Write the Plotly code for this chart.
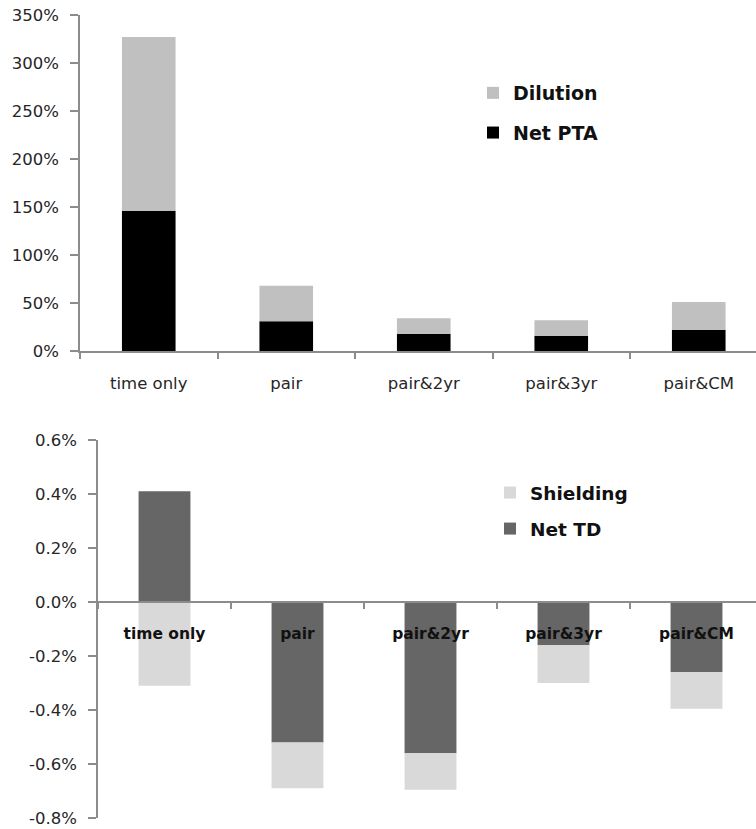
import plotly.graph_objects as go

categories = ["time only", "pair", "pair&2yr", "pair&3yr", "pair&CM"]

# Top chart (percent units)
net_pta = [146, 31, 18, 16, 22]
dilution = [181, 37, 16, 16, 29]
top_ticks = [0, 50, 100, 150, 200, 250, 300, 350]
top_labels = [f"{v}%" for v in top_ticks]

# Bottom chart (percent units)
net_td = [0.41, -0.52, -0.56, -0.16, -0.26]
shielding = [-0.31, -0.17, -0.135, -0.14, -0.135]
bot_ticks = [-0.8, -0.6, -0.4, -0.2, 0.0, 0.2, 0.4, 0.6]
bot_labels = [f"{v:.1f}%" for v in bot_ticks]

W, H = 756, 829
FONT = "DejaVu Sans"
TXT = "#262626"
AX = "#8c8c8c"
BW = 0.39

top_ydom = [(H - 351) / H, (H - 15) / H]
bot_ydom = [(H - 818) / H, (H - 440) / H]
bot_yrange = [-0.8, 0.6]
zero_pos = bot_ydom[0] + (0 - bot_yrange[0]) / (bot_yrange[1] - bot_yrange[0]) * (bot_ydom[1] - bot_ydom[0])

fig = go.Figure()
fig.add_trace(go.Bar(x=categories, y=net_pta, name="Net PTA", marker_color="#000000",
                     width=BW, xaxis="x", yaxis="y", legend="legend", legendgroup="a", legendrank=2))
fig.add_trace(go.Bar(x=categories, y=dilution, name="Dilution", marker_color="#c0c0c0",
                     width=BW, xaxis="x", yaxis="y", legend="legend", legendgroup="b", legendrank=1))
fig.add_trace(go.Bar(x=categories, y=net_td, name="Net TD", marker_color="#666666",
                     width=BW, xaxis="x2", yaxis="y2", legend="legend2", legendgroup="c", legendrank=2))
fig.add_trace(go.Bar(x=categories, y=shielding, name="Shielding", marker_color="#d9d9d9",
                     width=BW, xaxis="x2", yaxis="y2", legend="legend2", legendgroup="d", legendrank=1))

for t in fig.data:
    t.marker.line.width = 0

fig.update_layout(
    width=W, height=H,
    margin=dict(l=0, r=0, t=0, b=0, autoexpand=False),
    paper_bgcolor="white", plot_bgcolor="white",
    barmode="relative",
    font=dict(family=FONT, color=TXT),
    xaxis=dict(domain=[80 / W, 1], anchor="y", range=[-0.5, (W - 80) / 137.5 - 0.5],
               automargin=False,
               showline=True, linecolor=AX, linewidth=1.5, ticks="outside", tickson="boundaries",
               ticklen=6, tickcolor=AX, tickwidth=1.5, showgrid=False, zeroline=False,
               tickfont=dict(size=16.5, color=TXT), ticklabelstandoff=16),
    yaxis=dict(domain=top_ydom, anchor="x", range=[0, 350], tickmode="array",
               tickvals=top_ticks, ticktext=top_labels, automargin=False,
               showline=True, linecolor=AX, linewidth=1.5, ticks="outside", ticklen=8,
               tickcolor=AX, tickwidth=1.5, showgrid=False, zeroline=False,
               tickfont=dict(size=16.5, color=TXT), ticklabelstandoff=8),
    xaxis2=dict(domain=[98 / W, 1], anchor="free", position=zero_pos,
                range=[-0.5, (W - 98) / 133.0 - 0.5], automargin=False,
                showline=True, linecolor=AX, linewidth=1.5, ticks="outside", tickson="boundaries",
                ticklen=6, tickcolor=AX, tickwidth=1.5, showgrid=False, zeroline=False,
                tickfont=dict(size=15.5, color="#111111", weight="bold"), ticklabelstandoff=18),
    yaxis2=dict(domain=bot_ydom, anchor="x2", range=bot_yrange, tickmode="array",
                tickvals=bot_ticks, ticktext=bot_labels, automargin=False,
                showline=True, linecolor=AX, linewidth=1.5, ticks="outside", ticklen=8,
                tickcolor=AX, tickwidth=1.5, showgrid=False, zeroline=False,
                tickfont=dict(size=16.5, color=TXT), ticklabelstandoff=8),
    legend=dict(x=473 / W, y=(H - 74) / H, xanchor="left", yanchor="top",
                traceorder="grouped", tracegroupgap=12, bgcolor="rgba(0,0,0,0)",
                font=dict(size=19, color="#111111", weight="bold")),
    legend2=dict(x=490 / W, y=(H - 474) / H, xanchor="left", yanchor="top",
                 traceorder="grouped", tracegroupgap=9, bgcolor="rgba(0,0,0,0)",
                 font=dict(size=18.5, color="#111111", weight="bold")),
    showlegend=True,
)

fig.write_html("out.html")
